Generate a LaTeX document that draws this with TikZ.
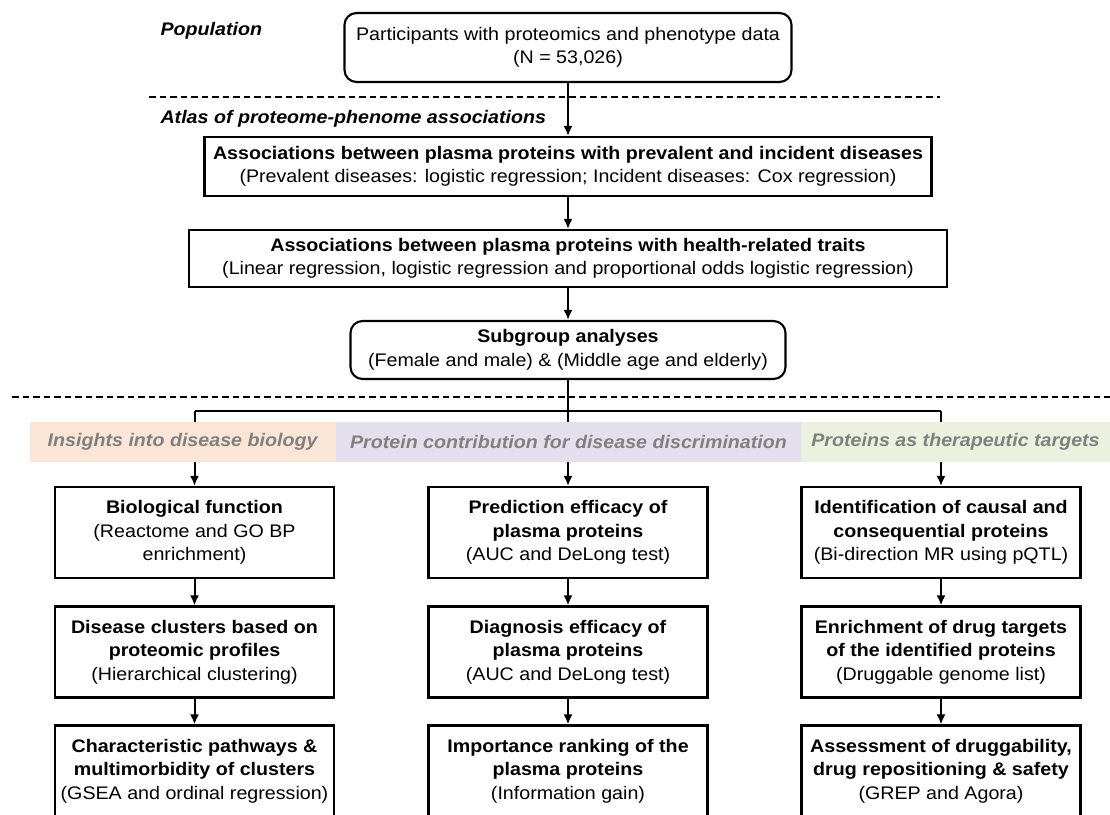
\documentclass[tikz,border=0pt]{standalone}
\usepackage{fontspec}
\setmainfont{Liberation Sans}[FakeStretch=1.08]
\usetikzlibrary{arrows.meta}

\definecolor{peche}{RGB}{251,229,214}
\definecolor{lavande}{RGB}{228,223,236}
\definecolor{vertclair}{RGB}{235,241,222}
\definecolor{grisTitre}{RGB}{128,128,128}
\newcommand{\taille}{\fontsize{18.2}{23.5}\selectfont}

\begin{document}
\begin{tikzpicture}[
    x=1pt, y=-1pt,
    boite/.style={draw, line width=2.1pt, align=center, inner sep=0pt},
    boiteronde/.style={boite, rounded corners=12pt},
    colonne/.style={boite, minimum width=279pt, minimum height=91pt},
    bande/.style={inner sep=0pt, minimum height=40pt, text=grisTitre},
    fleche/.style={line width=2pt, -{Latex[length=10pt,width=9pt]}},
    separateur/.style={line width=1.4pt, dash pattern=on 6.5pt off 4pt},
    font=\taille
]

\useasboundingbox (0,0) rectangle (1110,814);

% Population
\node[anchor=west] (population) at (157,31) {\textbf{\textit{Population}}};
\node[boiteronde, minimum width=447pt, minimum height=69pt] (participants) at (568,47.5)
    {Participants with proteomics and phenotype data\\(N = 53,026)};

\draw[separateur] (149,97) -- (940,97);

% Atlas des associations
\node[anchor=west] (atlas) at (157,119) {\textbf{\textit{Atlas of proteome-phenome associations}}};
\node[boite, minimum width=727pt, minimum height=59pt] (maladies) at (568,166.5)
    {\textbf{Associations between plasma proteins with prevalent and incident diseases}\\(Prevalent diseases: logistic regression; Incident diseases: Cox regression)};
\node[boite, minimum width=758pt, minimum height=57pt] (traits) at (568,258.5)
    {\textbf{Associations between plasma proteins with health-related traits}\\(Linear regression, logistic regression and proportional odds logistic regression)};
\node[boiteronde, minimum width=435pt, minimum height=58pt] (sousgroupes) at (568,350)
    {\textbf{Subgroup analyses}\\(Female and male) \& (Middle age and elderly)};

\draw[separateur] (12,397) -- (1110,397);

% Colonne gauche
\node[colonne] (biologie) at (194.5,532.5) {\textbf{Biological function}\\(Reactome and GO BP\\enrichment)};
\node[colonne] (clusters) at (194.5,652) {\textbf{Disease clusters based on}\\\textbf{proteomic profiles}\\(Hierarchical clustering)};
\node[colonne] (voies) at (194.5,771) {\textbf{Characteristic pathways \&}\\\textbf{multimorbidity of clusters}\\(GSEA and ordinal regression)};

% Colonne centrale
\node[colonne] (prediction) at (568,532.5) {\textbf{Prediction efficacy of}\\\textbf{plasma proteins}\\(AUC and DeLong test)};
\node[colonne] (diagnostic) at (568,652) {\textbf{Diagnosis efficacy of}\\\textbf{plasma proteins}\\(AUC and DeLong test)};
\node[colonne] (classement) at (568,771) {\textbf{Importance ranking of the}\\\textbf{plasma proteins}\\(Information gain)};

% Colonne droite
\node[colonne] (causalite) at (941,532.5) {\textbf{Identification of causal and}\\\textbf{consequential proteins}\\(Bi-direction MR using pQTL)};
\node[colonne] (cibles) at (941,652) {\textbf{Enrichment of drug targets}\\\textbf{of the identified proteins}\\(Druggable genome list)};
\node[colonne] (securite) at (941,771) {\textbf{Assessment of druggability,}\\\textbf{drug repositioning \& safety}\\(GREP and Agora)};

% Flèches
\draw[fleche] (participants) -- (maladies);
\draw[fleche] (maladies) -- (traits);
\draw[fleche] (traits) -- (sousgroupes);

\coordinate (branche) at (568,411);
\draw[fleche] (sousgroupes) -- (prediction);
\draw[line width=2pt] (branche -| biologie) -- (branche -| causalite);
\draw[fleche] (branche -| biologie) -- (biologie);
\draw[fleche] (branche -| causalite) -- (causalite);

\draw[fleche] (biologie) -- (clusters);
\draw[fleche] (clusters) -- (voies);
\draw[fleche] (prediction) -- (diagnostic);
\draw[fleche] (diagnostic) -- (classement);
\draw[fleche] (causalite) -- (cibles);
\draw[fleche] (cibles) -- (securite);

% Bandeaux des trois axes
\node[bande, fill=peche, minimum width=306pt] (bandeBiologie) at (183,442)
    {\textbf{\textit{Insights into disease biology}}};
\node[bande, fill=lavande, minimum width=465pt] (bandeDiscrimination) at (568.5,442)
    {\textbf{\textit{Protein contribution for disease discrimination}}};
\node[bande, fill=vertclair, minimum width=309pt] (bandeCibles) at (955.5,442)
    {\textbf{\textit{Proteins as therapeutic targets}}};

\end{tikzpicture}
\end{document}
